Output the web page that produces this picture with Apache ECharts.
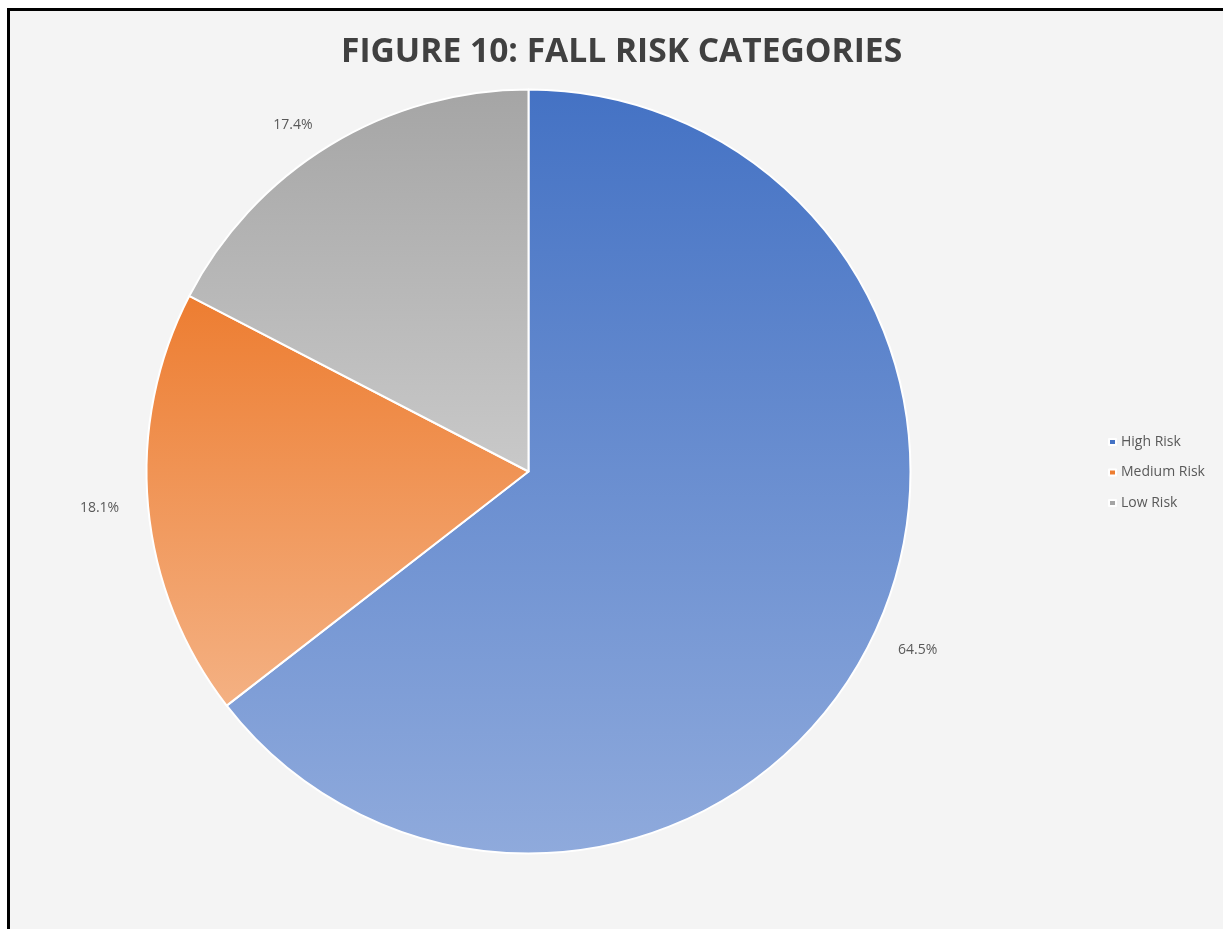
<!DOCTYPE html>
<html>
<head>
<meta charset="utf-8">
<title>Figure 10: Fall Risk Categories</title>
<script src="https://cdn.jsdelivr.net/npm/echarts@6/dist/echarts.min.js"></script>
<style>
  html, body { margin: 0; padding: 0; background: #ffffff; }
  #chart { width: 1223px; height: 929px; }
</style>
</head>
<body>
<div id="chart"></div>
<script>
// Fall risk categories and their share of patients (%)
const categories = ['High Risk', 'Medium Risk', 'Low Risk'];
const shares = [64.5, 18.1, 17.4];
// Top / bottom colour of each slice's vertical gradient
const topColors = ['#4472C4', '#ED7D31', '#A5A5A5'];
const bottomColors = ['#8FAADC', '#F4B183', '#C9C9C9'];
const titleText = 'FIGURE 10: FALL RISK CATEGORIES';

const chart = echarts.init(document.getElementById('chart'), null, { renderer: 'canvas' });

const pieData = categories.map((name, i) => ({
  name: name,
  value: shares[i],
  itemStyle: {
    color: new echarts.graphic.LinearGradient(0, 0, 0, 1, [
      { offset: 0, color: topColors[i] },
      { offset: 1, color: bottomColors[i] }
    ])
  }
}));

const option = {
  backgroundColor: '#ffffff',
  animation: false,
  graphic: [
    {
      type: 'rect',
      z: -10,
      silent: true,
      shape: { x: 8.5, y: 9.5, width: 1300, height: 1000 },
      style: { fill: '#f4f4f4', stroke: '#000000', lineWidth: 3 }
    }
  ],
  title: {
    text: titleText,
    left: 336,
    top: 30,
    textStyle: {
      fontFamily: 'Open Sans',
      fontWeight: 'bold',
      fontSize: 33.6,
      color: '#404040'
    }
  },
  legend: {
    orient: 'vertical',
    left: 1103,
    top: 430,
    itemWidth: 7,
    itemHeight: 6,
    itemGap: 16.5,
    icon: 'rect',
    data: categories.map((name, i) => ({ name: name, itemStyle: { color: topColors[i] } })),
    textStyle: {
      fontFamily: 'Open Sans',
      fontSize: 14,
      color: '#595959',
      padding: [0, 0, 0, 0]
    }
  },
  series: [
    {
      type: 'pie',
      center: [528.5, 471.5],
      radius: 382,
      startAngle: 90,
      clockwise: true,
      avoidLabelOverlap: false,
      itemStyle: { borderColor: '#ffffff', borderWidth: 2 },
      label: {
        show: true,
        position: 'outside',
        formatter: (p) => p.value.toFixed(1) + '%',
        fontFamily: 'Open Sans',
        fontSize: 14,
        color: '#595959'
      },
      labelLine: { show: false, length: 24, length2: 0 },
      emphasis: { disabled: true },
      data: pieData
    }
  ]
};

chart.setOption(option);
</script>
</body>
</html>
